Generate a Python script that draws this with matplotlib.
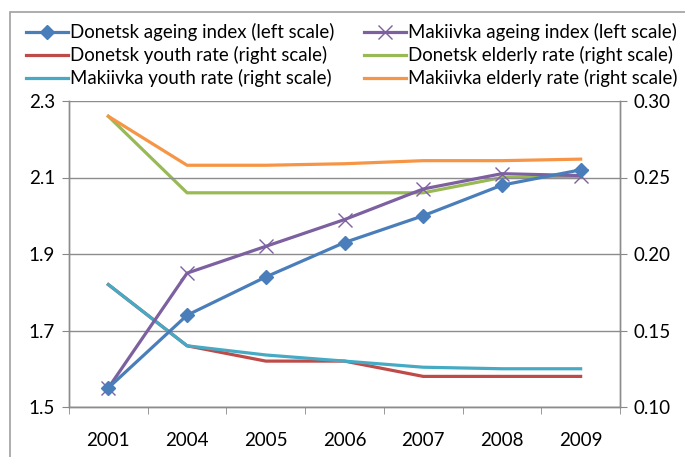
import matplotlib
matplotlib.use("Agg")
import matplotlib.pyplot as plt
from matplotlib.patches import Rectangle
import numpy as np

years = ["2001", "2004", "2005", "2006", "2007", "2008", "2009"]
donetsk_ageing = [1.55, 1.74, 1.84, 1.93, 2.00, 2.08, 2.12]
makiivka_ageing = [1.55, 1.85, 1.92, 1.99, 2.07, 2.11, 2.105]
donetsk_youth = [0.180, 0.140, 0.130, 0.130, 0.120, 0.120, 0.120]
makiivka_youth = [0.180, 0.140, 0.134, 0.130, 0.126, 0.125, 0.125]
donetsk_elderly = [0.290, 0.240, 0.240, 0.240, 0.240, 0.250, 0.250]
makiivka_elderly = [0.290, 0.258, 0.258, 0.259, 0.261, 0.261, 0.262]

plt.rcParams['font.family'] = ['Lato', 'DejaVu Sans']

W, H = 685, 457
fig = plt.figure(figsize=(W/100, H/100), dpi=100)
ax = fig.add_axes([69/W, 1-407/H, (620-69)/W, (407-101)/H])
ax2 = ax.twinx()

x = np.arange(len(years))
c_blue = "#4A7EBB"
c_red = "#BE4B48"
c_green = "#98B954"
c_purple = "#7D60A0"
c_teal = "#46AAC5"
c_orange = "#F69545"

lw = 2.3
h_dy, = ax2.plot(x, donetsk_youth, color=c_red, lw=lw, label="Donetsk youth rate (right scale)")
h_de, = ax2.plot(x, donetsk_elderly, color=c_green, lw=lw, label="Donetsk elderly rate (right scale)")
h_my, = ax2.plot(x, makiivka_youth, color=c_teal, lw=lw, label="Makiivka youth rate (right scale)")
h_me, = ax2.plot(x, makiivka_elderly, color=c_orange, lw=lw, label="Makiivka elderly rate (right scale)")

ax.set_zorder(ax2.get_zorder() + 1)
ax.patch.set_visible(False)
h_ma, = ax.plot(x, makiivka_ageing, color=c_purple, lw=lw, marker='x', ms=10, mew=1.0,
                label="Makiivka ageing index (left scale)")
h_da, = ax.plot(x, donetsk_ageing, color=c_blue, lw=lw, marker='D', ms=7.5,
                label="Donetsk ageing index (left scale)")

ax.set_ylim(1.5, 2.3)
ax.set_yticks([1.5, 1.7, 1.9, 2.1, 2.3])
ax2.set_ylim(0.10, 0.30)
ax2.set_yticks([0.10, 0.15, 0.20, 0.25, 0.30])
ax2.set_yticklabels(["0.10", "0.15", "0.20", "0.25", "0.30"])
ax.set_xlim(-0.5, 6.5)
ax.set_xticks(x)
ax.set_xticklabels(years)
ax.set_xticks(np.arange(-0.5, 7, 1), minor=True)
ax.tick_params(axis='x', which='major', length=0, pad=18, labelsize=13.5)
ax.tick_params(axis='x', which='minor', length=5, color="#888888", direction='out')
ax.tick_params(axis='y', length=5, color="#888888", labelsize=13.5, pad=5)
ax2.tick_params(axis='y', length=5, color="#888888", labelsize=13.5, pad=5)

ax2.grid(False)
ax.grid(axis='y', color="#8C8C8C", lw=1.0)
ax.set_axisbelow(True)
for a in (ax, ax2):
    a.spines['top'].set_visible(False)
    for s in ('left', 'right', 'bottom'):
        a.spines[s].set_color("#8C8C8C")
        a.spines[s].set_linewidth(1.0)

col1 = [h_da, h_dy, h_my]
col2 = [h_ma, h_de, h_me]

# legend geometry in pixels (layout only)
col1_handle_x = 26
col2_handle_x = 364
text_right = 678
handle_px = 42
row1_y = 32
row_step = 23


def make_col(handles, x0, fs, lsp):
    return fig.legend(handles=handles, labels=[h.get_label() for h in handles], ncol=1,
                      loc='upper left', bbox_to_anchor=(x0/W, 1), frameon=False,
                      fontsize=fs, handlelength=handle_px/(fs*100/72), handletextpad=0.12,
                      labelspacing=lsp, borderaxespad=0.0, borderpad=0.0)

fs = 13.0
lsp = 0.2
renderer = fig.canvas.get_renderer()
for _ in range(3):
    l2 = make_col(col2, col2_handle_x, fs, lsp)
    fig.canvas.draw()
    ext = [t.get_window_extent(renderer) for t in l2.get_texts()]
    width = max(e.x1 for e in ext) - min(e.x0 for e in ext)
    target = text_right - min(e.x0 for e in ext)
    step = (ext[0].y0 + ext[0].y1)/2 - (ext[1].y0 + ext[1].y1)/2
    l2.remove()
    fs = fs * target / width
    lsp = lsp + (row_step - step) / (fs*100/72)

l1 = make_col(col1, col1_handle_x, fs, lsp)
l2 = make_col(col2, col2_handle_x, fs, lsp)
fig.canvas.draw()
t0 = l1.get_texts()[0].get_window_extent(renderer)
cy = H - (t0.y0 + t0.y1)/2
dy = (cy - row1_y) / H
for l, x0 in ((l1, col1_handle_x), (l2, col2_handle_x)):
    l.set_bbox_to_anchor((x0/W, 1 + dy), transform=fig.transFigure)

fig.patches.append(Rectangle((10/W, -0.01), 1.0, 1.01-12/H, transform=fig.transFigure,
                             fill=False, edgecolor="#A0A0A0", lw=1.2))

fig.savefig("out.png", dpi=100)
